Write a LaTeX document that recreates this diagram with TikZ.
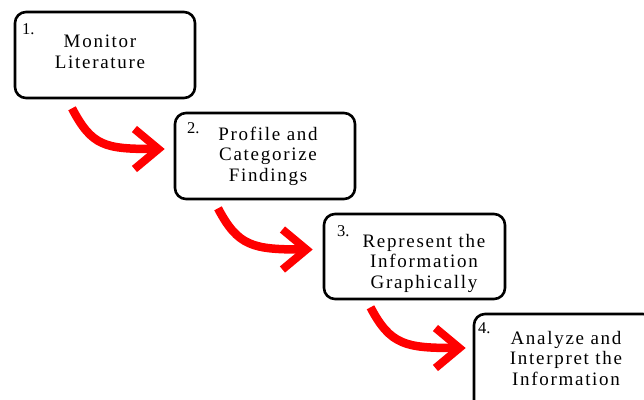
\documentclass[tikz,border=0pt]{standalone}
\usepackage{fontspec}
\setmainfont{Liberation Serif}
\newfontfamily\boxfont[LetterSpace=9]{Liberation Serif}
\usetikzlibrary{arrows.meta}
\begin{document}
\begin{tikzpicture}[x=1pt,y=-1pt,
  stepbox/.style={draw=black,line width=2.6pt,rounded corners=11pt,inner sep=0pt},
  numlbl/.style={font=\fontsize{16.5}{18}\selectfont,inner sep=0pt,anchor=base west},
  bodytxt/.style={font=\boxfont\fontsize{19}{20.3}\selectfont,align=center,inner sep=0pt,anchor=base},
  flow/.style={draw=red,line width=8.5pt,-{Straight Barb[length=24pt,width=40pt,line width=8pt]}}]
\useasboundingbox (0,0) rectangle (644,399);
\clip (0,0) rectangle (644,399);
% boxes
\node[stepbox,minimum width=180pt,minimum height=86pt] (b1) at (105,55) {};
\node[stepbox,minimum width=180pt,minimum height=86pt] (b2) at (265,156) {};
\node[stepbox,minimum width=181pt,minimum height=85pt] (b3) at (414.5,256.5) {};
\node[stepbox,minimum width=180pt,minimum height=100pt] (b4) at (564,364) {};
% numbers
\node[numlbl] (n1) at (22,34) {1.};
\node[numlbl] (n2) at (187,133) {2.};
\node[numlbl] (n3) at (337,236) {3.};
\node[numlbl] (n4) at (478,333) {4.};
% texts
\node[bodytxt] (t1) at (100,68) {Monitor\\Literature};
\node[bodytxt] (t2) at (268,181) {Profile and\\Categorize\\Findings};
\node[bodytxt] (t3) at (424,288) {Represent the\\Information\\Graphically};
\node[bodytxt] (t4) at (566,385) {Analyze and\\Interpret the\\Information};
% arrow ends
\coordinate (s1) at ([xshift=-33pt,yshift=-9pt]b1.south);
\coordinate (e1) at ([xshift=-9pt,yshift=7pt]b2.west);
\coordinate (s2) at ([xshift=-47pt,yshift=-8pt]b2.south);
\coordinate (e2) at ([xshift=-10pt,yshift=7pt]b3.west);
\coordinate (s3) at ([xshift=-44pt,yshift=-7pt]b3.south);
\coordinate (e3) at ([xshift=-7pt,yshift=16pt]b4.west);
\draw[flow] (s1) .. controls ([xshift=20pt,yshift=-38pt]s1) and ([xshift=-60pt]e1) .. (e1);
\draw[flow] (s2) .. controls ([xshift=20pt,yshift=-38pt]s2) and ([xshift=-60pt]e2) .. (e2);
\draw[flow] (s3) .. controls ([xshift=20pt,yshift=-38pt]s3) and ([xshift=-60pt]e3) .. (e3);
\end{tikzpicture}
\end{document}
